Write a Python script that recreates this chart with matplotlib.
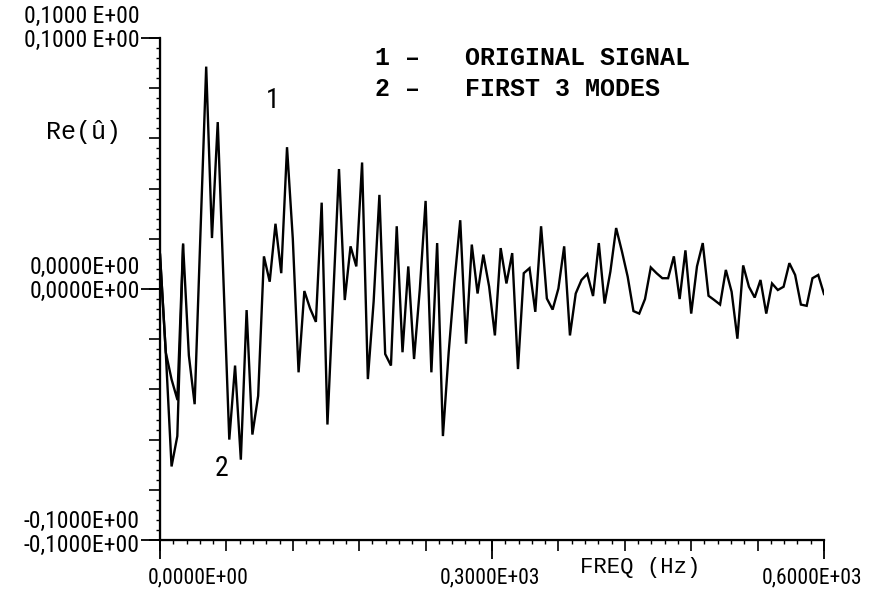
import numpy as np
import matplotlib
matplotlib.use("Agg")
import matplotlib.pyplot as plt
from matplotlib import font_manager as fm
from matplotlib.ticker import MultipleLocator

# Re(u^) of the spectrum, bins evenly spread over 0-600 Hz
signal = [
    0.0137, -0.0252, -0.0707, -0.0586, 0.0177, -0.0265, -0.0459, 0.0218,
    0.0886, 0.0203, 0.0665, 0.0030, -0.0600, -0.0305, -0.0680, -0.0084,
    -0.0580, -0.0426, 0.0130, 0.0029, 0.0260, 0.0063, 0.0565, 0.0200,
    -0.0332, -0.0008, -0.0078, -0.0131, 0.0344, -0.0540, -0.0031, 0.0478,
    -0.0044, 0.0170, 0.0090, 0.0504, -0.0359, -0.0050, 0.0375, -0.0259,
    -0.0305, 0.0250, -0.0252, 0.0090, -0.0279, 0.0000, 0.0351, -0.0332,
    0.0183, -0.0586, -0.0252, 0.0030, 0.0274, -0.0218, 0.0177, -0.0018,
    0.0137, 0.0010, -0.0185, 0.0163, 0.0022, 0.0143, -0.0319, 0.0063,
    0.0083, -0.0091, 0.0250, -0.0038, -0.0082, 0.0002, 0.0170, -0.0185,
    -0.0018, 0.0036, 0.0060, -0.0028, 0.0183, -0.0058, 0.0069, 0.0243,
    0.0150, 0.0049, -0.0088, -0.0098, -0.0040, 0.0086, 0.0063, 0.0043,
    0.0043, 0.0130, -0.0040, 0.0154, -0.0098, 0.0090, 0.0183, -0.0027,
    -0.0044, -0.0062, 0.0076, -0.0011, -0.0198, 0.0094, 0.0009, -0.0034,
    0.0036, -0.0098, 0.0022, -0.0004, 0.0009, 0.0103, 0.0056, -0.0062,
    -0.0067, 0.0043, 0.0056, -0.0020,
]
freq = np.linspace(0, 600, len(signal))

# the 3-mode reconstruction only departs from the signal in the first bins
modes_head = [0.0137, -0.0252, -0.0360, -0.0440, 0.0177]

y_tickvals = [-0.1, 0.0, 0.1]
y_ticklabels = ["-0,1000E+00", "0,0000E+00", "0,1000 E+00"]
x_tickvals = [0, 300, 600]
x_ticklabels = ["0,0000E+00", "0,3000E+03", "0,6000E+03"]
legend_lines = ["1 \u2013   ORIGINAL SIGNAL", "2 \u2013   FIRST 3 MODES"]


def first_font(names):
    for n in names:
        try:
            fm.findfont(fm.FontProperties(family=n), fallback_to_default=False)
            return n
        except ValueError:
            continue
    return None


W, H = 875, 606
narrow = first_font(["Liberation Sans Narrow", "DejaVu Sans Condensed",
                     "Roboto Condensed"])
if narrow:
    num_font, y_size, x_size = narrow, 17, 15.5
else:
    num_font, y_size, x_size = "DejaVu Sans", 14, 12.5
mono = first_font(["Liberation Mono", "Courier New", "DejaVu Sans Mono"])

fig = plt.figure(figsize=(W / 100, H / 100), dpi=100)
ax = fig.add_axes([160 / W, 66 / H, 664 / W, 502 / H])

ax.plot(freq, signal, color="black", lw=1.7, solid_joinstyle="miter")
ax.plot(freq[:len(modes_head)], modes_head, color="black", lw=1.7)

ax.set_xlim(0, 600)
ax.set_ylim(-0.1, 0.1)
for s in ("top", "right"):
    ax.spines[s].set_visible(False)
for s in ("left", "bottom"):
    ax.spines[s].set_linewidth(1.6)

ax.xaxis.set_major_locator(MultipleLocator(60))
ax.xaxis.set_minor_locator(MultipleLocator(12))
ax.yaxis.set_major_locator(MultipleLocator(0.02))
ax.yaxis.set_minor_locator(MultipleLocator(0.004))
ax.tick_params(which="major", direction="out", length=8, width=1.2,
               labelbottom=False, labelleft=False)
ax.tick_params(which="minor", direction="out", length=3, width=1.0)

# long ticks at the labelled values
secy = ax.secondary_yaxis("left")
secy.set_yticks(y_tickvals)
secy.tick_params(length=14, width=1.3, labelleft=False)
secy.minorticks_off()
secx = ax.secondary_xaxis("bottom")
secx.set_xticks(x_tickvals)
secx.tick_params(length=14, width=1.3, labelbottom=False)
secx.minorticks_off()

# each y label printed twice, one above the other
y_offsets = [(19, -5), (22, -2), (22, -2)]
for v, lab, offs in zip(y_tickvals, y_ticklabels, y_offsets):
    for dy in offs:
        ax.annotate(lab, xy=(0, v), xycoords=("axes fraction", "data"),
                    xytext=(-20, dy), textcoords="offset pixels",
                    ha="right", va="center", fontsize=y_size, family=num_font)

x_dx = [38, -2, -12]
for v, lab, dx in zip(x_tickvals, x_ticklabels, x_dx):
    ax.annotate(lab, xy=(v, 0), xycoords=("data", "axes fraction"),
                xytext=(dx, -38), textcoords="offset pixels",
                ha="center", va="center", fontsize=x_size, family=num_font)

fig.text(640 / W, 1 - 567 / H, "FREQ (Hz)", ha="center", va="center",
         fontsize=16, family=mono)
fig.text(83 / W, 1 - 132 / H, "Re(\u00fb)", ha="center", va="center",
         fontsize=18, family=mono)

for i, line in enumerate(legend_lines):
    fig.text(375 / W, 1 - (58 + 31 * i) / H, line, ha="left", va="center",
             fontsize=18, family=mono, fontweight="bold")

fig.text(273 / W, 1 - 100 / H, "1", ha="center", va="center",
         fontsize=20, family=num_font)
fig.text(222 / W, 1 - 468 / H, "2", ha="center", va="center",
         fontsize=20, family=num_font)

fig.savefig("out.png", dpi=100)
